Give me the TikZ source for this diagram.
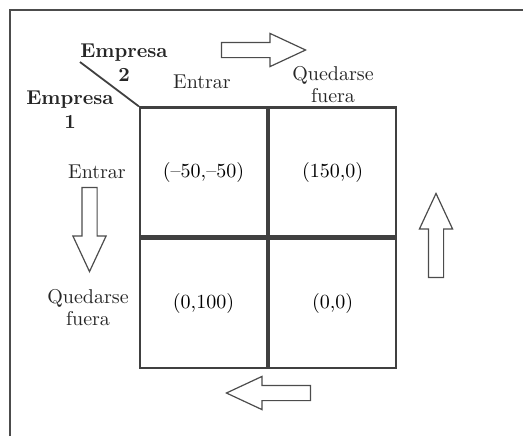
\documentclass[tikz,border=0pt]{standalone}
\usetikzlibrary{positioning,shapes.arrows}

\tikzset{basic/.style={draw=black!75,line width=1.1pt,fill=white}}
\tikzset{payoff/.style={basic,rectangle,minimum width=63.5pt,minimum height=64.5pt,inner sep=0pt}}
\tikzset{firm/.style={font=\bfseries,align=center,text=black!85}}
\tikzset{choice/.style={align=center,text=black!85,font=\linespread{0.92}\selectfont}}
\tikzset{bigarrow/.style={draw=black!70,fill=white,line width=0.6pt,single arrow,anchor=tip,minimum height=42pt,minimum width=16pt,inner sep=3.5pt,single arrow head extend=4.5pt,single arrow tip angle=50}}

\begin{document}
\begin{tikzpicture}[x=0.5pt,y=-0.5pt]
	\useasboundingbox (0,0) rectangle (523,436);
	% frame
	\draw[black!70,line width=0.8pt] (10,436) -- (10,10) -- (523,10);

	\node[payoff] (ee) at (203.5,172) {(--50,--50)};
	\node[payoff,right=0pt of ee] (eq) {(150,0)};
	\node[payoff,below=0pt of ee] (qe) {(0,100)};
	\node[payoff,right=0pt of qe] (qq) {(0,0)};

	\node[firm] (firm2) at (124,63) {Empresa\\2};
	\node[firm] (firm1) at (70,110) {Empresa\\1};
	\coordinate (slash) at (80,62);
	\draw[draw=black!75,line width=0.9pt] (slash) -- (ee.north west);

	\node[choice] (colin) at (202,82) {Entrar};
	\node[choice] (colout) at (333,85) {Quedarse\\fuera};
	\node[choice] (rowin) at (97,172) {Entrar};
	\node[choice] (rowout) at (88,308) {Quedarse\\fuera};

	\node[bigarrow] (toright) at (307,50) {};
	\node[bigarrow,shape border rotate=270] (todown) at (89.5,273) {};
	\node[bigarrow,shape border rotate=90] (toup) at (436,192) {};
	\node[bigarrow,shape border rotate=180] (toleft) at (225,393) {};

\end{tikzpicture}
\end{document}
